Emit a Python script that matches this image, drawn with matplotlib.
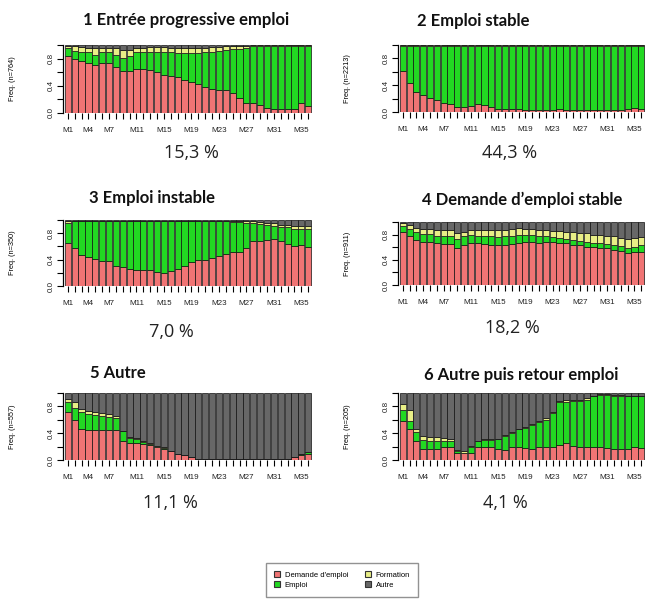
import numpy as np
import matplotlib
matplotlib.use("Agg")
from matplotlib import pyplot as plt
from matplotlib.patches import Patch

# mois M1..M36
mois = ["M%d" % i for i in range(1, 37)]
mois_affiches = ["M1", "M4", "M7", "M11", "M15", "M19", "M23", "M27", "M31", "M35"]

etats = ["Demande d'emploi", "Emploi", "Formation", "Autre"]
couleurs = ["#F07474", "#22D822", "#E8EE86", "#676767"]

titres = ["1 Entrée progressive emploi", "2 Emploi stable", "3 Emploi instable",
          "4 Demande d\u2019emploi stable", "5 Autre", "6 Autre puis retour emploi"]
effectifs = [764, 2213, 350, 911, 557, 205]
pourcentages = ["15,3 %", "44,3 %", "7,0 %", "18,2 %", "11,1 %", "4,1 %"]

# 1 Entrée progressive emploi
dem1 = [.84, .79, .77, .73, .71, .74, .73, .68, .62, .62, .65, .65, .63, .60, .56, .55, .53, .49,
        .45, .42, .38, .35, .34, .34, .30, .22, .15, .14, .12, .08, .06, .06, .06, .06, .14, .11]
emp1 = [.11, .12, .13, .16, .15, .15, .16, .17, .19, .22, .24, .25, .27, .29, .33, .34, .35, .39,
        .43, .46, .51, .55, .57, .59, .64, .72, .80, .85, .87, .91, .93, .93, .93, .93, .85, .88]
form1 = [.04, .07, .07, .07, .09, .06, .07, .10, .11, .09, .07, .06, .07, .08, .08, .07, .08, .08,
         .07, .07, .07, .07, .06, .05, .04, .05, .04, .01, .01, .01, .01, .01, .01, .01, .01, .01]
aut1 = [.01, .02, .03, .04, .05, .05, .04, .05, .08, .07, .04, .04, .03, .03, .03, .04, .04, .04,
        .05, .05, .04, .03, .03, .02, .02, .01, .01, 0, 0, 0, 0, 0, 0, 0, 0, 0]

# 2 Emploi stable
dem2 = [.61, .43, .30, .25, .21, .18, .14, .12, .08, .08, .09, .12, .10, .07, .05, .04, .04, .04,
        .03, .03, .03, .03, .03, .04, .03, .03, .03, .03, .03, .03, .03, .03, .03, .04, .06, .05]
emp2 = [.38, .56, .69, .74, .78, .81, .85, .87, .91, .91, .90, .87, .89, .92, .94, .95, .95, .95,
        .96, .96, .96, .96, .96, .95, .96, .96, .96, .96, .96, .96, .96, .96, .96, .95, .93, .94]
form2 = [.01, .01, .01, .01, .01, .01, .01, .01, .01, .01, .01, .01, .01, .01, .01, .01, .01, .01,
         .01, .01, .01, .01, .01, .01, .01, .01, .01, .01, .01, .01, .01, .01, .01, .01, .01, .01]
aut2 = [0, 0, 0, 0, 0, 0, 0, 0, 0, 0, 0, 0, 0, 0, 0, 0, 0, 0,
        0, 0, 0, 0, 0, 0, 0, 0, 0, 0, 0, 0, 0, 0, 0, 0, 0, 0]

# 3 Emploi instable
dem3 = [.65, .57, .47, .44, .41, .38, .38, .31, .29, .26, .25, .25, .24, .21, .20, .22, .26, .31,
        .36, .39, .39, .43, .46, .48, .51, .52, .57, .68, .68, .70, .71, .68, .64, .60, .62, .59]
emp3 = [.31, .41, .51, .54, .57, .60, .60, .67, .69, .72, .73, .73, .74, .77, .78, .76, .72, .67,
        .62, .59, .59, .55, .52, .50, .46, .45, .39, .27, .26, .22, .20, .21, .25, .26, .25, .28]
form3 = [.03, .01, .01, .01, .01, .01, .01, .01, .01, .01, .01, .01, .01, .01, .01, .01, .01, .01,
         .01, .01, .01, .01, .01, .01, .02, .02, .02, .03, .03, .04, .04, .04, .03, .05, .04, .04]
aut3 = [.01, .01, .01, .01, .01, .01, .01, .01, .01, .01, .01, .01, .01, .01, .01, .01, .01, .01,
        .01, .01, .01, .01, .01, .01, .01, .01, .02, .02, .03, .04, .05, .07, .08, .09, .09, .09]

# 4 Demande d'emploi stable
dem4 = [.84, .77, .72, .69, .69, .66, .65, .65, .59, .63, .67, .66, .65, .64, .63, .64, .65, .67,
        .69, .69, .67, .68, .68, .67, .66, .64, .63, .61, .60, .58, .58, .56, .54, .51, .53, .52]
emp4 = [.09, .12, .12, .12, .12, .11, .12, .12, .14, .14, .12, .12, .12, .13, .13, .13, .13, .13,
        .10, .10, .10, .09, .08, .07, .07, .08, .07, .07, .07, .08, .07, .08, .08, .08, .08, .11]
form4 = [.05, .06, .07, .08, .08, .11, .11, .10, .10, .07, .08, .10, .11, .11, .12, .11, .11, .10,
         .10, .10, .11, .11, .10, .11, .11, .12, .13, .14, .13, .13, .13, .13, .13, .14, .13, .13]
aut4 = [.02, .05, .09, .11, .11, .12, .12, .13, .17, .16, .13, .12, .12, .12, .12, .12, .11, .10,
        .11, .11, .12, .12, .14, .15, .16, .16, .17, .18, .20, .21, .22, .23, .25, .27, .26, .24]

# 5 Autre
dem5 = [.71, .59, .47, .45, .45, .45, .45, .45, .28, .25, .25, .24, .22, .19, .17, .13, .09, .07,
        .04, .02, .01, .01, .01, .01, .01, .01, .01, .01, .01, .01, .01, .01, .01, .04, .08, .09]
emp5 = [.15, .18, .24, .23, .22, .21, .19, .17, .15, .08, .07, .03, .02, .01, .01, .01, 0, 0,
        0, 0, 0, 0, 0, 0, 0, 0, 0, 0, 0, 0, 0, 0, 0, 0, .01, .03]
form5 = [.05, .09, .05, .05, .05, .04, .04, .04, .01, .02, .01, .01, .01, .01, .01, 0, 0, 0,
         0, 0, 0, 0, 0, 0, 0, 0, 0, 0, 0, 0, 0, 0, 0, 0, 0, 0]
aut5 = [.09, .14, .24, .27, .28, .30, .32, .34, .56, .65, .67, .72, .75, .79, .81, .86, .91, .93,
        .96, .98, .99, .99, .99, .99, .99, .99, .99, .99, .99, .99, .99, .99, .99, .96, .91, .88]

# 6 Autre puis retour emploi
dem6 = [.58, .46, .28, .16, .16, .16, .19, .19, .10, .10, .11, .19, .19, .19, .16, .15, .19, .19,
        .18, .16, .19, .19, .19, .23, .26, .21, .19, .19, .20, .19, .18, .16, .16, .16, .20, .18]
emp6 = [.16, .12, .14, .14, .12, .12, .10, .09, .04, .01, .08, .09, .11, .11, .15, .21, .22, .27,
        .30, .36, .37, .41, .51, .63, .61, .67, .69, .71, .75, .78, .79, .80, .79, .79, .75, .77]
form6 = [.10, .16, .05, .06, .07, .07, .04, .03, .01, .02, .02, .01, .01, .01, .01, .01, .01, .01,
         .02, .02, .02, .02, .02, .02, .02, .02, .02, .02, .01, .01, .01, .01, .02, .01, .01, .01]
aut6 = [.16, .26, .53, .64, .65, .65, .67, .69, .85, .87, .79, .71, .69, .69, .68, .63, .58, .53,
        .50, .46, .42, .38, .28, .12, .11, .10, .10, .08, .04, .02, .02, .03, .03, .04, .04, .04]

donnees = [
    [dem1, emp1, form1, aut1],
    [dem2, emp2, form2, aut2],
    [dem3, emp3, form3, aut3],
    [dem4, emp4, form4, aut4],
    [dem5, emp5, form5, aut5],
    [dem6, emp6, form6, aut6],
]

W, H = 653, 602
# cadres des graphiques en pixels (gauche, droite, haut, bas)
cadres = [(63, 312, 45, 113), (398, 645, 45, 112),
          (63, 312, 220, 286), (398, 645, 222, 285),
          (63, 312, 393, 460), (398, 645, 393, 460)]
pos_titres = [(186, 20), (473, 21), (152, 198), (522, 200), (118, 373), (521, 375)]
pos_pct = [(191, 153), (510, 153), (171, 332), (512, 328), (170, 503), (505, 503)]

fig = plt.figure(figsize=(W / 100, H / 100), dpi=100)

x = np.arange(1, 37)
for k in range(6):
    g, d, h, b = cadres[k]
    ax = fig.add_axes([g / W, 1 - b / H, (d - g) / W, (b - h) / H])
    bas = np.zeros(36)
    for serie, coul in zip(donnees[k], couleurs):
        v = np.array(serie, dtype=float)
        ax.bar(x, v, bottom=bas, width=0.9, color=coul, edgecolor="#111111", linewidth=0.5)
        bas = bas + v
    ax.set_xlim(0.3, 36.55)
    ax.set_ylim(0, 1)
    for s in ["top", "right", "bottom"]:
        ax.spines[s].set_visible(False)
    ax.spines["left"].set_linewidth(0.9)
    ax.set_xticks(x)
    ax.set_xticklabels([m if m in mois_affiches else "" for m in mois],
                       fontsize=5.8, family="Liberation Sans", color="#222222")
    ax.set_yticks([0, .2, .4, .6, .8, 1.0])
    ax.set_yticklabels(["0.0", "", "0.4", "", "0.8", ""], rotation=90, va="center",
                       fontsize=5.8, family="Liberation Sans", color="#222222")
    ax.tick_params(axis="x", length=4, width=0.8, pad=6)
    ax.tick_params(axis="y", length=4, width=0.8, pad=2)
    ax.set_ylabel("Freq. (n=%d)" % effectifs[k], fontsize=5.3, family="Liberation Sans")
    ax.yaxis.set_label_coords(-0.19, 0.5)

    tx, ty = pos_titres[k]
    fig.text(tx / W, 1 - ty / H, titres[k], ha="center", va="center",
             fontsize=12, fontweight="bold", family="Lato", color="#111111")
    px, py = pos_pct[k]
    fig.text(px / W, 1 - py / H, pourcentages[k], ha="center", va="center",
             fontsize=13, family="Open Sans", color="#222222")

poignees = [Patch(facecolor=c, edgecolor="#333333", linewidth=0.8) for c in couleurs]
leg = fig.legend(poignees, etats, ncol=2, loc="center", bbox_to_anchor=(342 / W, 1 - 580 / H),
                 frameon=True, fancybox=False, edgecolor="#777777",
                 handlelength=0.8, handleheight=0.8, columnspacing=2.2, borderpad=1.1,
                 handletextpad=0.6, labelspacing=0.35, borderaxespad=0,
                 prop={"family": "Liberation Sans", "size": 5.5})
leg.get_frame().set_linewidth(1.0)

fig.savefig("out.png", dpi=100)
